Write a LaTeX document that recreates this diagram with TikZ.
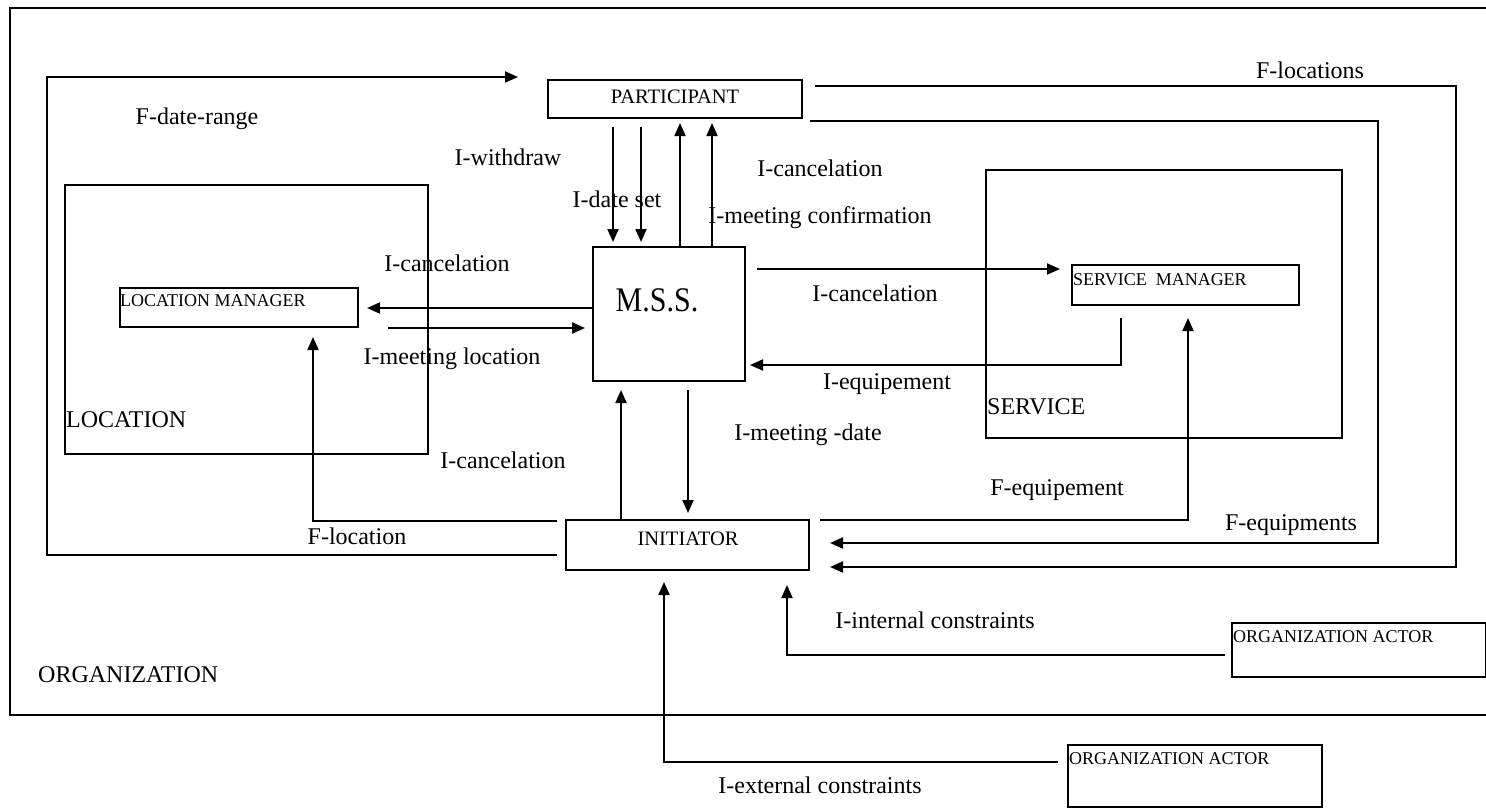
\documentclass[tikz,border=0pt]{standalone}
\usepackage{fontspec}
\setmainfont{Liberation Serif}
\usetikzlibrary{arrows.meta,calc}

\tikzset{
  box/.style={draw, line width=2.1pt, rectangle, inner sep=0pt, outer sep=0pt, anchor=north west},
  wire/.style={line width=1.9pt},
  arr/.style={wire, -{Triangle[length=13pt,width=11pt]}},
  lbl/.style={inner sep=0pt, font=\fontsize{24}{28}\selectfont},
  boxtxt/.style={inner sep=0pt, font=\fontsize{20.5}{24}\selectfont},
  smalltxt/.style={inner sep=0pt, anchor=west, font=\fontsize{18}{21}\selectfont},
}

\begin{document}
\begin{tikzpicture}[x=1pt,y=-1pt]
\useasboundingbox (0,0) rectangle (1486,807);

% organization frame
\draw[line width=2.1pt] (1486,8) -- (10,8) -- (10,715) -- (1486,715);
\node[lbl, anchor=west] (orglbl) at (38,675) {ORGANIZATION};

% containers
\node[box, line width=1.6pt, minimum width=363pt, minimum height=269pt] (loc) at (65,185) {};
\node[lbl, anchor=west] (loclbl) at (66,420) {LOCATION};
\node[box, line width=1.6pt, minimum width=356pt, minimum height=268pt] (serv) at (986,170) {};
\node[lbl, anchor=west] (servlbl) at (987,407) {SERVICE};

% actors
\node[box, minimum width=254pt, minimum height=38pt] (part) at (548,80) {};
\node[boxtxt] (parttxt) at (675,97) {PARTICIPANT};
\node[box, minimum width=152pt, minimum height=134pt] (mss) at (593,247) {};
\node[inner sep=0pt, font=\fontsize{30}{34}\selectfont] (msstxt) at (657,300) {\scalebox{1}[1.15]{M.S.S.}};
\node[box, minimum width=238pt, minimum height=39pt] (lm) at (120,288) {};
\node[smalltxt] (lmtxt) at (120,301) {LOCATION MANAGER};
\node[box, minimum width=227pt, minimum height=40pt] (sm) at (1072,265) {};
\node[smalltxt] (smtxt) at (1073,280) {SERVICE\ \ MANAGER};
\node[box, minimum width=243pt, minimum height=50pt] (init) at (566,520) {};
\node[boxtxt] (inittxt) at (688,539) {INITIATOR};
\node[box, minimum width=254pt, minimum height=54pt] (oa1) at (1232,623) {};
\node[smalltxt] (oa1txt) at (1233,637) {ORGANIZATION ACTOR};
\node[box, minimum width=254pt, minimum height=62pt] (oa2) at (1068,745) {};
\node[smalltxt] (oa2txt) at (1069,759) {ORGANIZATION ACTOR};

% participant <-> M.S.S.
\draw[arr, shorten <=9pt, shorten >=5pt] (613,0 |- part.south) -- (613,0 |- mss.north);
\draw[arr, shorten <=9pt, shorten >=5pt] (641,0 |- part.south) -- (641,0 |- mss.north);
\draw[arr, shorten >=5pt] (680,0 |- mss.north) -- (680,0 |- part.south);
\draw[arr, shorten >=5pt] (712,0 |- mss.north) -- (712,0 |- part.south);
\node[lbl] (l1) at (508,157) {I-withdraw};
\node[lbl] (l2) at (617,199) {I-date set};
\node[lbl] (l3) at (820,168) {I-cancelation};
\node[lbl] (l4) at (820,218) {I-meeting confirmation};

% location manager <-> M.S.S.
\draw[arr, shorten >=9pt] (mss.west |- 0,308) -- (lm.east |- 0,308);
\draw[arr, shorten <=30pt, shorten >=8pt] (lm.east |- 0,328) -- (mss.west |- 0,328);
\node[lbl] (l5) at (447,263) {I-cancelation};
\node[lbl] (l6) at (452,359) {I-meeting location};

% M.S.S. <-> service manager
\draw[arr, shorten <=12pt, shorten >=12pt] (mss.east |- 0,269) -- (sm.west |- 0,269);
\draw[arr, shorten <=13pt, shorten >=5pt] (1121,0 |- sm.south) -- (1121,365) -- (mss.east |- 0,365);
\node[lbl] (l7) at (875,293) {I-cancelation};
\node[lbl] (l8) at (887,384) {I-equipement};

% M.S.S. <-> initiator
\draw[arr, shorten >=9pt] (621,0 |- init.north) -- (621,0 |- mss.south);
\draw[arr, shorten <=9pt, shorten >=7pt] (688,0 |- mss.south) -- (688,0 |- init.north);
\node[lbl] (l9) at (808,435) {I-meeting -date};
\node[lbl] (l10) at (503,460) {I-cancelation};

% initiator -> participant (date range)
\draw[arr, shorten <=9pt, shorten >=30pt] (init.west |- 0,555) -- (47,555) -- (47,77) -- (part.west |- 0,77);
\node[lbl] (l11) at (197,119) {F-date-range};

% initiator -> location manager
\draw[arr, shorten <=9pt, shorten >=10pt] (init.west |- 0,521) -- (313,521) -- (313,0 |- lm.south);
\node[lbl] (l12) at (357,536) {F-location};

% initiator -> service manager
\draw[arr, shorten <=11pt, shorten >=13pt] (init.east |- 0,520) -- (1188,520) -- (1188,0 |- sm.south);
\node[lbl] (l13) at (1057,490) {F-equipement};

% participant -> initiator
\draw[arr, shorten <=13pt, shorten >=21pt] (part.east |- 0,86) -- (1456,86) -- (1456,567) -- (init.east |- 0,567);
\node[lbl] (l14) at (1310,70) {F-locations};
\draw[arr, shorten <=8pt, shorten >=21pt] (part.east |- 0,121) -- (1378,121) -- (1378,543) -- (init.east |- 0,543);
\node[lbl] (l15) at (1291,525) {F-equipments};

% organization actors -> initiator
\draw[arr, shorten <=7pt, shorten >=15pt] (oa1.west |- 0,655) -- (787,655) -- (787,0 |- init.south);
\node[lbl] (l16) at (935,620) {I-internal constraints};
\draw[arr, shorten <=10pt, shorten >=12pt] (oa2.west |- 0,762) -- (664,762) -- (664,0 |- init.south);
\node[lbl] (l17) at (820,785) {I-external constraints};
\end{tikzpicture}
\end{document}
